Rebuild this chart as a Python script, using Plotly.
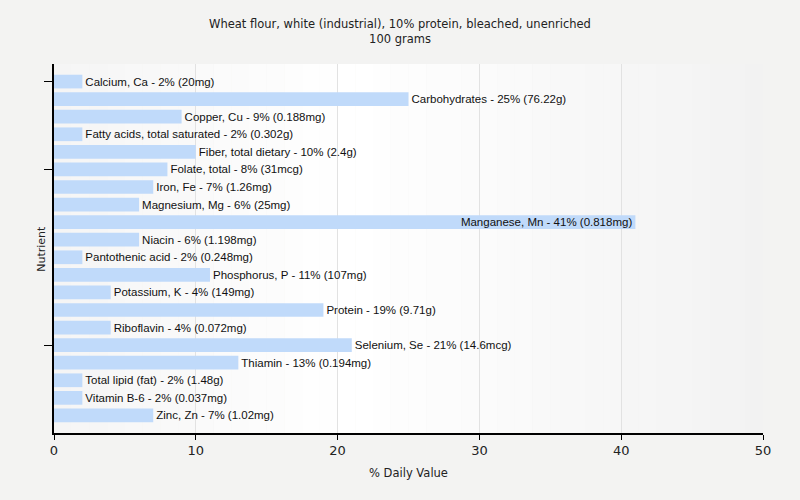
import plotly.graph_objects as go

nutrients = ["Calcium, Ca", "Carbohydrates", "Copper, Cu", "Fatty acids, total saturated",
             "Fiber, total dietary", "Folate, total", "Iron, Fe", "Magnesium, Mg",
             "Manganese, Mn", "Niacin", "Pantothenic acid", "Phosphorus, P", "Potassium, K",
             "Protein", "Riboflavin", "Selenium, Se", "Thiamin", "Total lipid (fat)",
             "Vitamin B-6", "Zinc, Zn"]
daily_pct = [2, 25, 9, 2, 10, 8, 7, 6, 41, 6, 2, 11, 4, 19, 4, 21, 13, 2, 2, 7]
amounts = ["20mg", "76.22g", "0.188mg", "0.302g", "2.4g", "31mcg", "1.26mg", "25mg",
           "0.818mg", "1.198mg", "0.248mg", "107mg", "149mg", "9.71g", "0.072mg",
           "14.6mcg", "0.194mg", "1.48g", "0.037mg", "1.02mg"]
y_ticks = ["Calcium, Ca", "Folate, total", "Selenium, Se"]
x_ticks = [0, 10, 20, 30, 40, 50]

labels = [f"{n} - {v}% ({a})" for n, v, a in zip(nutrients, daily_pct, amounts)]
positions = ["inside" if v > 35 else "outside" for v in daily_pct]

fig = go.Figure(go.Bar(
    x=daily_pct, y=nutrients, orientation="h",
    marker=dict(color="#c0dafa", line=dict(width=0)),
    width=0.78,
    text=labels, textposition=positions, insidetextanchor="end",
    textfont=dict(family="Liberation Sans, Arial", size=11.5, color="#111111"),
    cliponaxis=False, hoverinfo="skip",
))

# background gradient strips (light grey -> white -> light grey)
n = 40
shapes = []
for i in range(n):
    t = (i + 0.5) / n
    if t < 0.42:
        g = 245 + (255 - 245) * (t / 0.42)
    else:
        g = 255 - (255 - 242) * ((t - 0.42) / 0.58)
    g = int(round(g))
    shapes.append(dict(type="rect", xref="x domain", yref="y domain",
                       x0=i / n, x1=(i + 1) / n, y0=0, y1=1,
                       fillcolor=f"rgb({g},{g},{g})", line=dict(width=0), layer="below"))

fig.update_layout(
    width=800, height=500,
    margin=dict(l=54, r=37, t=64, b=67),
    paper_bgcolor="#f3f3f2", plot_bgcolor="rgba(0,0,0,0)",
    shapes=shapes,
    uniformtext=dict(minsize=11, mode="show"),
    title=dict(text="Wheat flour, white (industrial), 10% protein, bleached, unenriched<br>100 grams",
               x=0.5, xanchor="center", y=0.944, yanchor="top",
               font=dict(family="DejaVu Sans, Verdana", size=11.5, color="#222222")),
    showlegend=False,
    font=dict(family="DejaVu Sans, Verdana", size=12, color="#222222"),
    annotations=[dict(text="Nutrient", textangle=-90, xref="paper", yref="paper",
                      x=-0.018, y=0.5, xanchor="center", yanchor="middle", showarrow=False,
                      font=dict(family="DejaVu Sans, Verdana", size=11, color="#222222"))],
)
fig.update_xaxes(range=[0, 50], tickvals=x_ticks, showgrid=True, gridcolor="#e2e2e2",
                 gridwidth=1, zeroline=False, showline=True, linecolor="#000000",
                 linewidth=1.5, ticks="outside", ticklen=5, tickcolor="#000000",
                 tickfont=dict(family="DejaVu Sans, Verdana", size=13, color="#222222"),
                 title=dict(text="% Daily Value", standoff=12,
                            font=dict(family="DejaVu Sans, Verdana", size=11.5)))
fig.update_yaxes(type="category", categoryorder="array", categoryarray=nutrients,
                 range=[20, -1], tickvals=y_ticks, ticktext=["", "", ""],
                 showgrid=False, zeroline=False, showline=True, linecolor="#000000",
                 linewidth=1.5, ticks="outside", ticklen=8, tickcolor="#000000")

fig.write_html("out.html")
